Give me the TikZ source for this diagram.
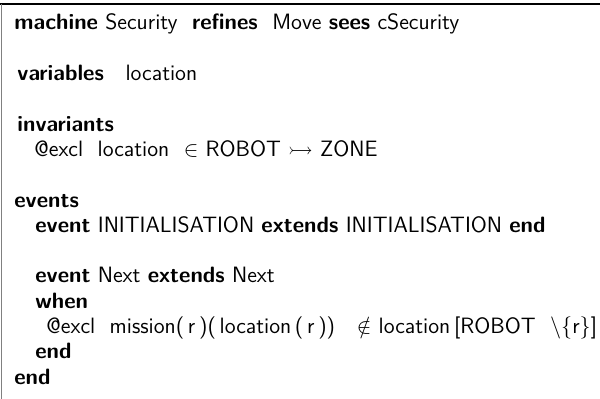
\documentclass[tikz,border=0pt]{standalone}
\usepackage{amsmath}
\usepackage{amssymb}
\usepackage{tikz}

\newcommand{\kw}[1]{\textbf{#1}}
\tikzset{codeline/.style={anchor=base west,inner sep=0pt,
    font=\fontsize{11.1}{13}\sffamily}}

\begin{document}
\begin{tikzpicture}[x=0.5pt,y=0.5pt]
	\useasboundingbox (0,0) rectangle (600,399);
	\clip (0,0) rectangle (600,399);
	%% frame
	\draw[line width=0.6pt] (0,395) -- (600,395);
	\draw[gray,line width=0.6pt] (1.5,395) -- (1.5,0);
	%% machine header
	\node[codeline] (machine) at (14,369) {\kw{machine} Security\ \ \kw{refines}\ \ Move \kw{sees} cSecurity};
	\node[codeline] (vars) at (17,318.4) {\kw{variables}\ \ \ location};
	\node[codeline] (inv) at (17,267.8) {\kw{invariants}};
	\node[codeline] (excl) at (34,242.5) {@excl\ \ location\ \ $\in$ ROBOT $\rightarrowtail$ ZONE};
	%% events
	\node[codeline] (events) at (14,191.9) {\kw{events}};
	\node[codeline] (init) at (35,166.6) {\kw{event} INITIALISATION \kw{extends} INITIALISATION \kw{end}};
	\node[codeline] (next) at (35,116) {\kw{event} Next \kw{extends} Next};
	\node[codeline] (when) at (35,90.7) {\kw{when}};
	\node[codeline] (guard) at (46,65.4) {@excl\ \ mission(\,r\,)(\,location\,(\,r\,))\ \ \ $\notin$\ location\,[ROBOT\ \ \textbackslash\{r\}]};
	\node[codeline] (endnext) at (35,40.1) {\kw{end}};
	\node[codeline] (endmach) at (14,14.8) {\kw{end}};
\end{tikzpicture}
\end{document}
